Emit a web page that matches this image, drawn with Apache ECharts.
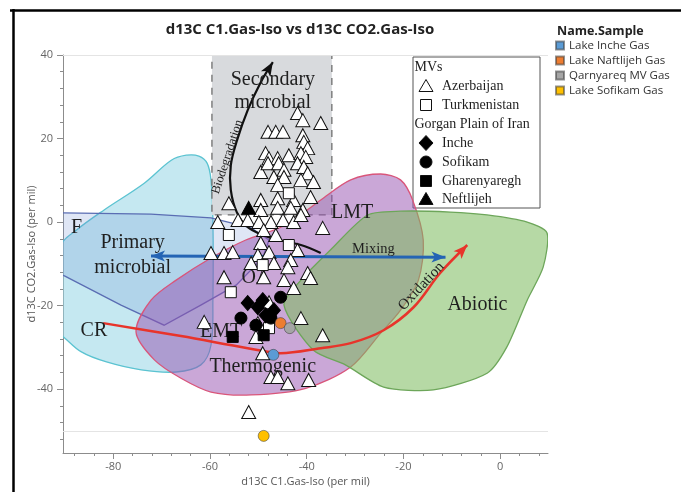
<!DOCTYPE html>
<html>
<head>
<meta charset="utf-8">
<script src="https://cdn.jsdelivr.net/npm/echarts@6/dist/echarts.min.js"></script>
<style>
  html, body { margin: 0; padding: 0; background: #fff; }
  #chart { width: 681px; height: 492px; }
</style>
</head>
<body>
<div id="chart"></div>
<script>
// ---- Sample measurements (d13C C1 vs d13C CO2, per mil) ----
const sampleNames = ['Lake Inche Gas', 'Lake Naftlijeh Gas', 'Qarnyareq MV Gas', 'Lake Sofikam Gas'];
const sampleC1 = [-46.9, -45.4, -43.5, -48.9];
const sampleCO2 = [-31.8, -24.2, -25.4, -51.2];
const sampleColors = ['#5b9bd5', '#ed7d31', '#a5a5a5', '#ffc000'];

// ---- Axis ticks ----
const xTicks = [-80, -60, -40, -20, 0];
const xMinorTicks = [-88, -84, -76, -72, -68, -64, -56, -52, -48, -44, -36, -32, -28, -24, -16, -12, -8, -4, 4, 8];
const yTicks = [40, 20, 0, -20, -40];
const yMinorTicks = [36, 32, 28, 24, 16, 12, 8, 4, -4, -8, -12, -16, -24, -28, -32, -36, -44, -48, -52];

// ---- Published reference data: mud volcano gases ----
const azerbaijan = [
  [-41.9, 26.1], [-40.8, 24.4], [-37.1, 23.7], [-48.0, 21.6], [-46.4, 21.6], [-44.9, 21.6],
  [-40.8, 20.8], [-40.6, 19.2], [-39.8, 17.7], [-48.5, 16.5], [-47.8, 15.3], [-46.0, 15.3],
  [-43.7, 16.0], [-41.2, 16.5], [-40.2, 15.6], [-49.5, 12.0], [-48.0, 14.1], [-45.8, 14.1],
  [-44.7, 12.5], [-41.9, 14.1], [-40.6, 13.2], [-39.8, 11.7], [-46.8, 10.8], [-44.7, 10.8],
  [-41.2, 10.1], [-38.6, 9.6], [-46.0, 8.9], [-49.5, 5.3], [-46.0, 5.7], [-42.7, 5.3],
  [-39.2, 6.0], [-56.1, 4.5], [-49.5, 2.9], [-46.0, 3.4], [-43.3, 3.4], [-40.8, 2.9],
  [-58.4, 0.0], [-54.2, 0.5], [-52.2, 0.5], [-49.9, 0.0], [-47.4, 0.0], [-44.9, 0.5],
  [-42.7, 0.0], [-41.2, 1.7], [-36.7, -1.4], [-48.9, -1.9], [-46.4, -3.1], [-49.5, -5.0],
  [-59.8, -7.4], [-57.1, -7.4], [-55.3, -7.2], [-50.1, -7.9], [-47.8, -7.2], [-41.9, -6.7],
  [-43.3, -9.1], [-51.5, -9.8], [-46.8, -9.8], [-43.9, -10.8], [-57.1, -13.2], [-48.9, -13.2],
  [-44.7, -13.9], [-39.8, -12.2], [-39.2, -13.4], [-42.7, -15.8], [-47.8, -19.2], [-41.2, -23.0],
  [-61.2, -23.9], [-50.1, -24.2], [-36.7, -27.1], [-50.5, -27.5], [-49.1, -31.4], [-47.4, -37.1],
  [-46.0, -37.1], [-43.9, -38.6], [-39.6, -37.8], [-52.0, -45.5]
];
const turkmenistan = [[-43.7, 6.9], [-56.1, -3.1], [-43.7, -5.5], [-49.1, -10.3], [-55.7, -16.8], [-47.8, -25.4]];
// Gorgan Plain of Iran
const inche = [[-50.1, -20.4], [-46.8, -21.1], [-48.5, -22.3], [-49.1, -18.7], [-52.2, -19.4]];
const sofikam = [[-45.4, -18.0], [-53.6, -23.0], [-50.5, -24.7], [-47.4, -23.0]];
const gharenyaregh = [[-55.3, -27.5], [-48.9, -27.1]];
const neftlijeh = [[-52.0, 3.4]];

// ---- Genetic fields (outlines in axis units) ----
const fieldPrimary = [
  [-90.7, -5.5], [-87.6, -1.9], [-81.9, 2.9], [-73.6, 9.3], [-68.0, 14.8], [-64.9, 16.0],
  [-62.3, 15.8], [-60.6, 14.1], [-59.8, 10.1], [-59.4, 0.5], [-59.4, -18.7], [-59.8, -29.5],
  [-61.9, -34.2], [-67.0, -35.9], [-74.2, -35.4], [-81.4, -33.5], [-86.6, -31.1], [-90.3, -27.5], [-92.0, -25.9]
];
const fieldF = [
  [-92.0, 2.2], [-72.2, 1.9], [-59.8, 1.0], [-51.5, -1.4], [-47.8, -4.3], [-49.1, -8.6],
  [-54.6, -15.1], [-61.9, -19.9], [-69.5, -24.7], [-78.4, -19.9], [-90.1, -12.9], [-92.0, -12.0]
];
const fieldThermogenic = [
  [-75.3, -26.3], [-72.2, -18.7], [-67.0, -13.9], [-59.8, -8.6], [-52.6, -4.3], [-44.3, -0.7],
  [-37.1, 5.3], [-30.9, 10.1], [-24.7, 11.5], [-20.6, 10.1], [-18.1, 5.3], [-15.9, -4.3],
  [-16.9, -13.9], [-20.6, -21.1], [-24.7, -26.6], [-30.9, -34.7], [-40.2, -39.8], [-51.5, -41.4],
  [-59.8, -40.7], [-66.0, -37.4], [-71.5, -33.0]
];
const fieldAbiotic = [
  [-44.7, -19.9], [-41.2, -13.9], [-35.1, -6.7], [-27.4, 1.7], [-20.6, 2.6], [-10.3, 2.4],
  [-2.7, 1.7], [5.6, 0.0], [9.7, -2.6], [8.9, -10.8], [5.6, -18.7], [1.4, -29.9],
  [-2.7, -36.2], [-13.8, -40.2], [-24.1, -39.5], [-32.0, -34.2], [-38.6, -30.7]
];
const fieldSecondary = [[-59.6, 40.0], [-34.8, 40.0], [-34.8, 1.7], [-59.6, 1.7]];

// ---- Process trends ----
const trendBiodegradation = [
  [-37.1, -7.4], [-41.2, -5.5], [-47.4, -3.8], [-52.0, -1.4], [-54.4, 2.2], [-55.7, 7.7],
  [-55.7, 13.6], [-54.4, 19.6], [-52.2, 26.8], [-49.5, 33.5], [-47.0, 38.3]
];
const trendOxidation = [
  [-82.1, -24.2], [-66.0, -27.3], [-52.2, -30.2], [-45.4, -31.4], [-37.1, -30.2], [-30.9, -29.0],
  [-24.1, -25.9], [-17.9, -20.4], [-12.4, -12.2], [-6.8, -5.5]
];
const trendMixing = [[-72.2, -8.1], [-11.3, -8.4]];

// ---- Field and trend labels ----
const fieldLabels = [
  { text: 'Secondary', at: [-47.0, 34.0], size: 20 },
  { text: 'microbial', at: [-47.0, 28.5], size: 20 },
  { text: 'LMT', at: [-30.6, 2.2], size: 20 },
  { text: 'F', at: [-87.6, -1.4], size: 20 },
  { text: 'Primary', at: [-76.0, -5.0], size: 20 },
  { text: 'microbial', at: [-76.0, -11.0], size: 20 },
  { text: 'CR', at: [-84.0, -26.1], size: 20 },
  { text: 'OA', at: [-50.5, -13.4], size: 20 },
  { text: 'EMT', at: [-57.7, -26.3], size: 20 },
  { text: 'Thermogenic', at: [-49.1, -34.7], size: 20 },
  { text: 'Abiotic', at: [-4.7, -19.9], size: 20 },
  { text: 'Mixing', at: [-26.2, -6.5], size: 14.5 },
  { text: 'Oxidation', at: [-16.3, -15.4], size: 15, rotate: 47 },
  { text: 'Biodegradation', at: [-56.4, 15.6], size: 12.5, rotate: 72 }
];

const SANS = '"Open Sans", "Noto Sans", sans-serif';
const SERIF = '"Liberation Serif", "DejaVu Serif", serif';

function fieldSeries(points, fill, stroke, smooth, dashed) {
  return {
    type: 'custom', coordinateSystem: 'cartesian2d', clip: true, silent: true, z: 1,
    data: [0],
    renderItem: function (params, api) {
      return {
        type: 'polygon',
        shape: { points: points.map(function (p) { return api.coord(p); }), smooth: smooth },
        style: { fill: fill, stroke: stroke, lineWidth: 1.3, lineDash: dashed ? [7, 6] : null }
      };
    }
  };
}

function arrowHead(a, b, len, hw) {
  const dx = b[0] - a[0], dy = b[1] - a[1];
  const L = Math.hypot(dx, dy) || 1;
  const ux = dx / L, uy = dy / L;
  return [
    b,
    [b[0] - ux * len - uy * hw, b[1] - uy * len + ux * hw],
    [b[0] - ux * len * 0.75, b[1] - uy * len * 0.75],
    [b[0] - ux * len + uy * hw, b[1] - uy * len - ux * hw]
  ];
}

function trendSeries(points, color, width, bothEnds, smooth) {
  return {
    type: 'custom', coordinateSystem: 'cartesian2d', clip: true, silent: true, z: 3,
    data: [0],
    renderItem: function (params, api) {
      const pts = points.map(function (p) { return api.coord(p); });
      const n = pts.length;
      const children = [{
        type: 'polyline',
        shape: { points: pts, smooth: smooth },
        style: { stroke: color, lineWidth: width, fill: null }
      }];
      children.push({ type: 'polygon', shape: { points: arrowHead(pts[n - 2], pts[n - 1], 14, 5.5) }, style: { fill: color } });
      if (bothEnds) {
        children.push({ type: 'polygon', shape: { points: arrowHead(pts[1], pts[0], 14, 5.5) }, style: { fill: color } });
      }
      return { type: 'group', children: children };
    }
  };
}

const labelSeries = {
  type: 'custom', coordinateSystem: 'cartesian2d', clip: false, silent: true, z: 4,
  data: fieldLabels.map(function (d, i) { return i; }),
  renderItem: function (params, api) {
    const d = fieldLabels[params.dataIndex];
    const p = api.coord(d.at);
    return {
      type: 'text', x: p[0], y: p[1], rotation: (d.rotate || 0) * Math.PI / 180,
      style: { text: d.text, fill: '#1f1f1f', font: d.size + 'px ' + SERIF, align: 'center', verticalAlign: 'middle' }
    };
  }
};

function markerSeries(data, symbol, size, fill, stroke) {
  return {
    type: 'scatter', data: data, symbol: symbol, symbolSize: size, silent: true, z: 5,
    itemStyle: { color: fill, borderColor: stroke, borderWidth: 1, opacity: 1 }
  };
}

const sampleSeries = sampleNames.map(function (name, i) {
  return {
    name: name, type: 'scatter', z: 8,
    data: [[sampleC1[i], sampleCO2[i]]],
    symbol: 'circle', symbolSize: 11,
    itemStyle: { color: sampleColors[i], borderColor: 'rgba(60,60,60,0.55)', borderWidth: 1, opacity: 1 }
  };
});

// Legend box for the reference groups
const refLegendRows = [
  { kind: 'head', text: 'MVs', y: 67 },
  { kind: 'tri', fill: '#fff', text: 'Azerbaijan', y: 86 },
  { kind: 'sq', fill: '#fff', text: 'Turkmenistan', y: 105 },
  { kind: 'head', text: 'Gorgan Plain of Iran', y: 124 },
  { kind: 'dia', fill: '#000', text: 'Inche', y: 143 },
  { kind: 'circ', fill: '#000', text: 'Sofikam', y: 162 },
  { kind: 'sq', fill: '#000', text: 'Gharenyaregh', y: 181 },
  { kind: 'tri', fill: '#000', text: 'Neftlijeh', y: 199 }
];
const boxX = 413, boxY = 57, symX = 426, txtX = 442;
const refLegend = [{
  type: 'rect', shape: { x: boxX, y: boxY, width: 127, height: 151 },
  style: { fill: '#fff', stroke: '#555', lineWidth: 1 }
}];
refLegendRows.forEach(function (r) {
  if (r.kind === 'head') {
    refLegend.push({ type: 'text', x: boxX + 1.5, y: r.y, style: { text: r.text, font: '14px ' + SERIF, fill: '#1f1f1f', verticalAlign: 'middle' } });
    return;
  }
  const st = { fill: r.fill, stroke: '#111', lineWidth: 1 };
  if (r.kind === 'tri') refLegend.push({ type: 'polygon', shape: { points: [[symX, r.y - 6.5], [symX + 7, r.y + 5.5], [symX - 7, r.y + 5.5]] }, style: st });
  if (r.kind === 'sq') refLegend.push({ type: 'rect', shape: { x: symX - 5.5, y: r.y - 5.5, width: 11, height: 11 }, style: st });
  if (r.kind === 'dia') refLegend.push({ type: 'polygon', shape: { points: [[symX, r.y - 7.5], [symX + 7, r.y], [symX, r.y + 7.5], [symX - 7, r.y]] }, style: st });
  if (r.kind === 'circ') refLegend.push({ type: 'circle', shape: { cx: symX, cy: r.y, r: 6 }, style: st });
  refLegend.push({ type: 'text', x: txtX, y: r.y, style: { text: r.text, font: '14px ' + SERIF, fill: '#1f1f1f', verticalAlign: 'middle' } });
});

const axisGray = '#8c8c8c';
const X_MIN = -90.4, X_MAX = 9.9, Y_MIN = -55.3, Y_MAX = 40;

const option = {
  animation: false,
  backgroundColor: '#fff',
  grid: { left: 63, right: 133, top: 55, bottom: 39, containLabel: false, outerBoundsMode: 'none' },
  xAxis: [{
    type: 'value', min: X_MIN, max: X_MAX, position: 'bottom',
    name: 'd13C C1.Gas-Iso (per mil)', nameLocation: 'middle', nameGap: 23, nameMoveOverlap: false,
    nameTextStyle: { color: '#555', fontSize: 11, fontFamily: SANS },
    axisLine: { show: true, onZero: false, lineStyle: { color: axisGray } },
    axisTick: { show: true, length: 6, customValues: xTicks, lineStyle: { color: axisGray } },
    axisLabel: { customValues: xTicks, margin: 8, color: '#666', fontSize: 11, fontFamily: SANS },
    splitLine: { show: false }
  }, {
    type: 'value', min: X_MIN, max: X_MAX, position: 'bottom',
    axisLine: { show: false, onZero: false },
    axisTick: { show: true, length: 3, customValues: xMinorTicks, lineStyle: { color: axisGray } },
    axisLabel: { show: false }, splitLine: { show: false }
  }],
  yAxis: [{
    type: 'value', min: Y_MIN, max: Y_MAX, position: 'left',
    name: 'd13C CO2.Gas-Iso (per mil)', nameLocation: 'middle', nameGap: 26, nameMoveOverlap: false,
    nameTextStyle: { color: '#555', fontSize: 11, fontFamily: SANS },
    axisLine: { show: true, onZero: false, lineStyle: { color: axisGray } },
    axisTick: { show: true, length: 6, customValues: yTicks, lineStyle: { color: axisGray } },
    axisLabel: { customValues: yTicks, margin: 10, color: '#666', fontSize: 11, fontFamily: SANS },
    splitLine: { show: false }
  }, {
    type: 'value', min: Y_MIN, max: Y_MAX, position: 'left',
    axisLine: { show: false, onZero: false },
    axisTick: { show: true, length: 3, customValues: yMinorTicks, lineStyle: { color: axisGray } },
    axisLabel: { show: false }, splitLine: { show: false }
  }],
  legend: {
    data: sampleNames, orient: 'vertical', left: 555, top: 39, padding: 0,
    itemWidth: 8, itemHeight: 8, itemGap: 2, icon: 'rect',
    textStyle: { fontFamily: SANS, fontSize: 11.5, color: '#333', lineHeight: 13 }
  },
  graphic: [
    { type: 'line', shape: { x1: 10, y1: 10.5, x2: 681, y2: 10.5 }, style: { stroke: '#000', lineWidth: 2.5 }, z: 100 },
    { type: 'line', shape: { x1: 13.5, y1: 9, x2: 13.5, y2: 492 }, style: { stroke: '#000', lineWidth: 2.5 }, z: 100 },
    { type: 'text', x: 300, y: 30, style: { text: 'd13C C1.Gas-Iso vs d13C CO2.Gas-Iso', font: 'bold 15px ' + SANS, fill: '#222', align: 'center', verticalAlign: 'middle' } },
    { type: 'text', x: 557, y: 31, style: { text: 'Name.Sample', font: 'bold 12.5px ' + SANS, fill: '#222', verticalAlign: 'middle' } },
    { type: 'group', children: refLegend, z: 50 }
  ],
  series: [
    fieldSeries(fieldPrimary, 'rgba(150, 214, 230, 0.55)', '#5bc3d1', 0.35, false),
    fieldSeries(fieldSecondary, '#d8dadd', '#6e6e6e', 0, true),
    fieldSeries(fieldF, 'rgba(110, 140, 210, 0.22)', '#5a6db3', 0, false),
    fieldSeries(fieldThermogenic, 'rgba(150, 80, 175, 0.5)', '#d9557a', 0.3, false),
    fieldSeries(fieldAbiotic, 'rgba(125, 188, 95, 0.56)', '#6da65a', 0.25, false),
    trendSeries(trendMixing, '#2464b4', 3, true, 0),
    trendSeries(trendOxidation, '#e8342b', 2.5, false, 0.35),
    trendSeries(trendBiodegradation, '#111', 2.2, false, 0.35),
    labelSeries,
    Object.assign(markerSeries(azerbaijan, 'triangle', [14, 13], '#fff', '#111'), {
      markLine: {
        silent: true, symbol: 'none', label: { show: false },
        lineStyle: { color: '#e4e4e4', width: 1, type: 'solid' },
        data: [{ yAxis: 40 }, { yAxis: -50 }]
      }
    }),
    markerSeries(turkmenistan, 'rect', 11, '#fff', '#111'),
    markerSeries(inche, 'diamond', [13, 15], '#000', '#000'),
    markerSeries(sofikam, 'circle', 12, '#000', '#000'),
    markerSeries(gharenyaregh, 'rect', 11, '#000', '#000'),
    markerSeries(neftlijeh, 'triangle', [14, 13], '#000', '#000')
  ].concat(sampleSeries)
};

const chart = echarts.init(document.getElementById('chart'), null, { renderer: 'canvas' });
chart.setOption(option);
</script>
</body>
</html>
